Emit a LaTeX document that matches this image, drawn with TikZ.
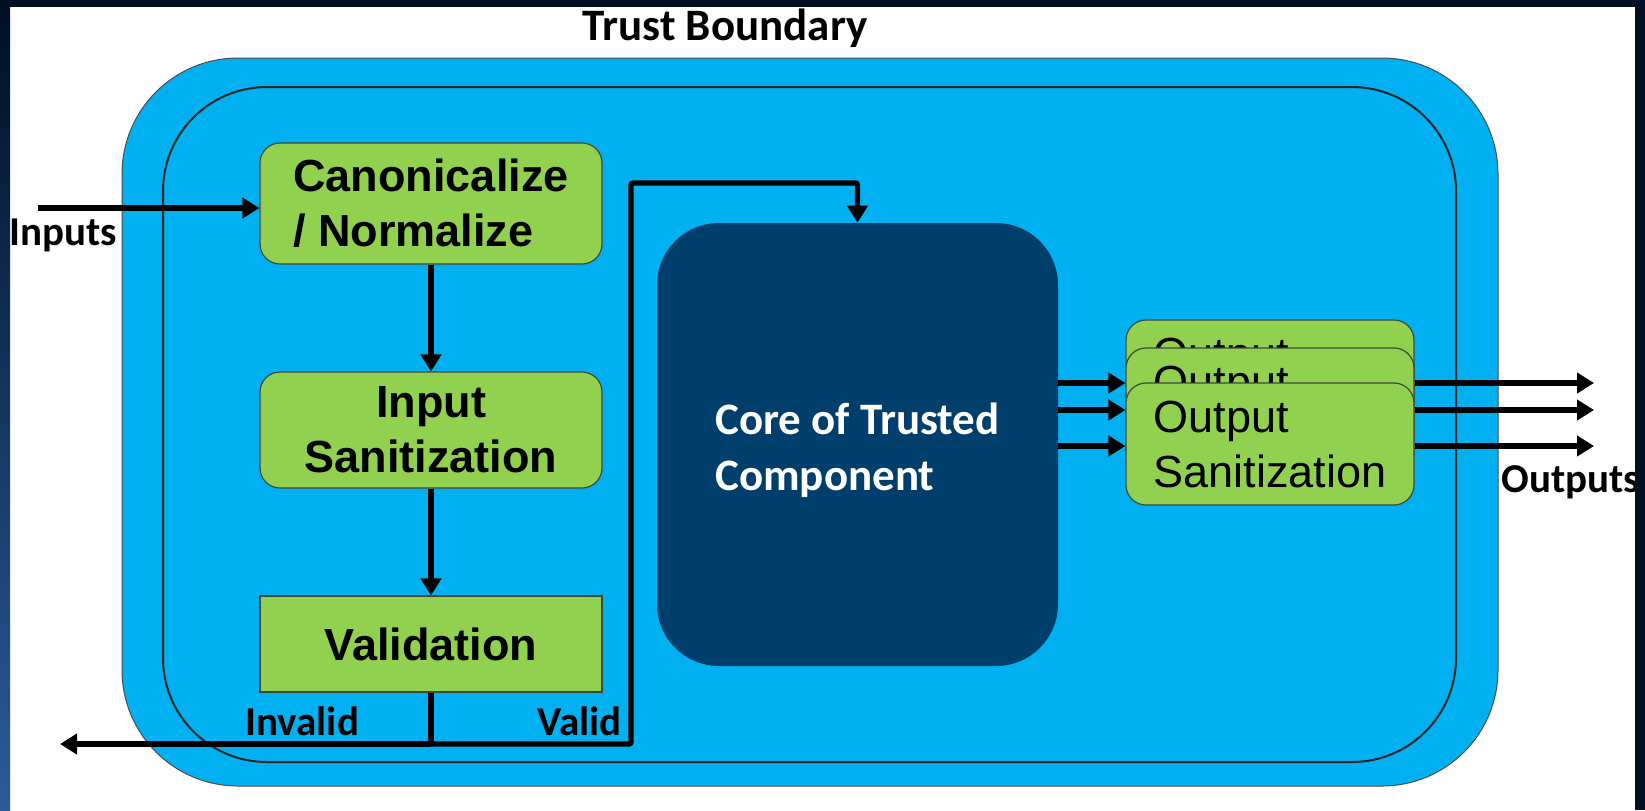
\documentclass[tikz,border=0pt]{standalone}
\usepackage{fontspec}
\setmainfont{Liberation Sans}
\newfontfamily\calibrifont{Carlito}
\usetikzlibrary{arrows.meta}
\definecolor{trustblue}{HTML}{00B0F0}
\definecolor{stepgreen}{HTML}{92D050}
\definecolor{corenavy}{HTML}{003E6B}
\definecolor{slidenavy}{HTML}{000F24}
\definecolor{slideblue}{HTML}{2A5C9A}
\definecolor{edgegray}{HTML}{3C4A3C}
\tikzset{
        stage/.style={draw=edgegray, fill=stepgreen, line width=0.6pt, rounded corners=10pt, minimum width=171pt, align=center, font=\bfseries\fontsize{22.5}{27.5}\selectfont},
        checkbox/.style={stage, sharp corners},
        sanbox/.style={draw=edgegray, fill=stepgreen, line width=0.6pt, rounded corners=10pt, minimum width=144pt, minimum height=61pt, align=left, font=\fontsize{22.5}{27.5}\selectfont},
        corebox/.style={fill=corenavy, rounded corners=31pt, minimum width=200.5pt, minimum height=221.5pt},
        coretext/.style={align=left, text=white, font=\calibrifont\bfseries\fontsize{22.5}{28}\selectfont},
        lbl/.style={inner sep=0pt, font=\calibrifont\bfseries\fontsize{20.5}{24}\selectfont},
        flow/.style={line width=2.6pt, -{Triangle[length=8.5pt,width=10pt]}},
        wire/.style={line width=2.6pt}
    }

\begin{document}
\begin{tikzpicture}[x=0.5pt, y=-0.5pt]
            \useasboundingbox (0,0) rectangle (1645,810);
            \fill[white] (0,0) rectangle (1645,810);

            % trust boundary
            \draw[fill=trustblue, draw=black!70, line width=0.5pt, rounded corners=58pt] (122,58) rectangle (1498,786);
            \draw[draw=black!85, line width=1pt, rounded corners=52pt] (163,87) rectangle (1456,762);
            \node[lbl, anchor=base, font=\calibrifont\bfseries\fontsize{22.5}{26}\selectfont] (title) at (725,40) {Trust Boundary};

            \node[stage, align=left, minimum height=60.5pt] (canon) at (431,203.5) {Canonicalize\\/ Normalize};
            \node[stage, minimum height=58pt] (insan) at (431,430) {Input\\Sanitization};
            \node[checkbox, minimum height=48pt] (check) at (431,644) {Validation};
            \node[corebox] (core) at (857.5,444.5) {};
            \node[coretext] (corelbl) at (857.5,450) {Core of Trusted\\Component};
            \foreach \i/\y in {1/381,2/409,3/444}
                \node[sanbox] (out\i) at (1270,\y) {Output\\Sanitization};

            \coordinate (inputs) at (38,208);
            \coordinate (split) at (431,744);
            \coordinate (reject) at (60,744);
            \coordinate (bend) at (631,183);

            \draw[flow] (inputs) -- (inputs -| canon.west);
            \draw[flow] (canon) -- (insan);
            \draw[flow] (insan) -- (check);
            \draw[wire] (check) -- (split);
            \draw[flow] (split) -- (reject);
            \draw[flow, rounded corners=1pt] (split) -| (bend) -| (core.north);

            \foreach \n/\y in {1/383,2/410,3/446} {
                \coordinate (tip\n) at (1594,\y);
                \draw[flow] (core.east |- tip\n) -- (out3.west |- tip\n);
                \draw[flow] (out3.east |- tip\n) -- (tip\n);
            }

            \node[lbl, anchor=base west] (inlbl) at (9,245) {Inputs};
            \node[lbl, anchor=base west] (badlbl) at (245,735) {Invalid};
            \node[lbl, anchor=base west] (goodlbl) at (537,735) {Valid};
            \node[lbl, anchor=base west] (outlbl) at (1501,492) {Outputs};

            % slide frame
            \fill[slidenavy] (0,0) rectangle (1645,7);
            \shade[top color=slidenavy, bottom color=slideblue] (0,0) rectangle (10,810);
            \fill[slidenavy] (1635,0) rectangle (1645,810);
        \end{tikzpicture}
\end{document}
